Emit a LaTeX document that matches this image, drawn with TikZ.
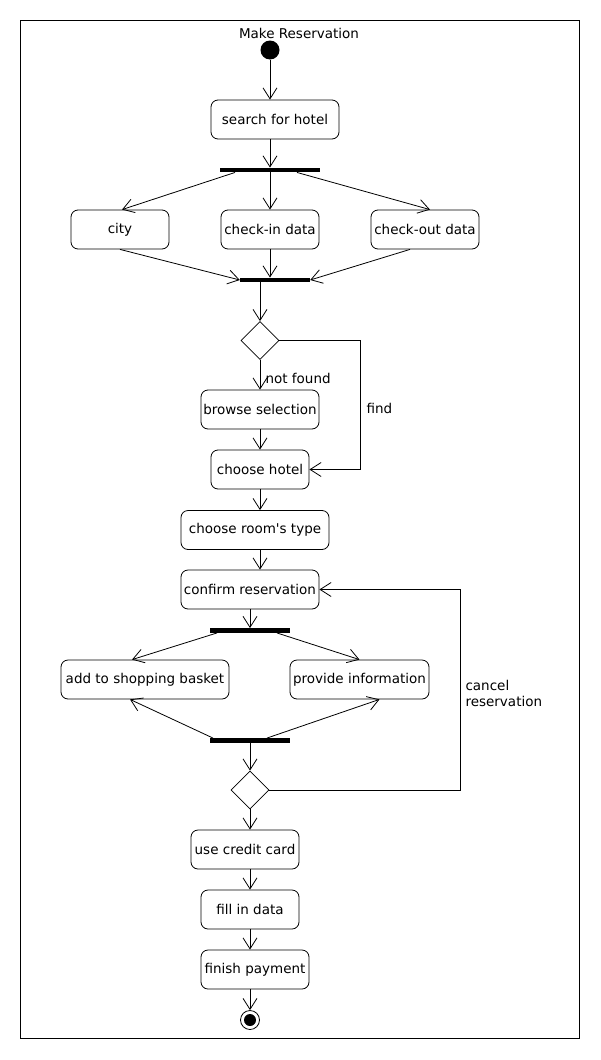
\documentclass[tikz,border=0pt]{standalone}
\usepackage{fontspec}
\setmainfont{DejaVu Sans}
\newfontfamily\nomapfont{DejaVu Sans}
\usetikzlibrary{arrows.meta,calc,shapes.geometric}
\begin{document}
\begin{tikzpicture}[x=1pt,y=-1pt,
  txt/.style={font=\fontsize{13.5}{16}\selectfont},
  act/.style={txt,draw,rounded corners=7pt,line width=0.8pt,minimum height=39pt,inner sep=0pt},
  bar/.style={fill=black,minimum height=4.5pt,inner sep=0pt},
  dec/.style={draw,diamond,line width=0.8pt,minimum width=38pt,minimum height=38pt,inner sep=0pt},
  flow/.style={-{Straight Barb[length=11pt,width=14pt,line width=0.8pt]},line width=0.8pt},
  plain/.style={line width=0.8pt}
]
\path[use as bounding box,fill=white] (0,0) rectangle (600,1060);
\draw[line width=1pt] (20,20) rectangle (579,1038);

\node[txt] (title) at (299,33) {Make Reservation};
\node[circle,fill=black,minimum size=19pt,inner sep=0pt] (start) at (270,50) {};
\node[act,minimum width=128pt] (search) at (275,119.5) {search for hotel};
\node[bar,minimum width=100pt] (fork1) at (270,170) {};
\node[act,minimum width=98pt] (city) at (120,229.5) {city};
\node[act,minimum width=98pt] (checkin) at (270,229.5) {check-in data};
\node[act,minimum width=108pt] (checkout) at (425,229.5) {check-out data};
\node[bar,minimum width=70pt] (join1) at (275,280) {};
\node[dec] (dec1) at (260,340.5) {};
\node[act,minimum width=118pt] (browse) at (260,409.5) {browse selection};
\node[act,minimum width=98pt] (hotel) at (260,469.5) {choose hotel};
\node[act,minimum width=148pt] (room) at (255,530) {\nomapfont choose room's type};
\node[act,minimum width=138pt] (confirm) at (250,589.5) {confirm reservation};
\node[bar,minimum width=80pt] (fork2) at (250,630.5) {};
\node[act,minimum width=168pt] (basket) at (145,679.5) {add to shopping basket};
\node[act,minimum width=139pt] (provide) at (359.5,679.5) {provide information};
\node[bar,minimum width=80pt] (join2) at (250,740.5) {};
\node[dec] (dec2) at (250,790) {};
\node[act,minimum width=108pt] (credit) at (245,849.5) {use credit card};
\node[act,minimum width=98pt] (fill) at (250,909.5) {fill in data};
\node[act,minimum width=108pt] (finish) at (255,969.5) {finish payment};
\node[circle,draw,line width=0.8pt,minimum size=19pt,inner sep=0pt] (end) at (250,1020) {};
\node[circle,fill=black,minimum size=12pt,inner sep=0pt] (endin) at (end) {};

\coordinate (fr) at (360.5,340.5);
\coordinate (cr) at (460.5,790);

\draw[flow] (start.south) -- (start.south |- search.north);
\draw[flow] (fork1.north |- search.south) -- (fork1.north);
\draw[flow] ([xshift=-35pt]fork1.south) -- ([xshift=2pt]city.north);
\draw[flow] (fork1.south) -- (checkin.north);
\draw[flow] ([xshift=27pt]fork1.south) -- ([xshift=5pt]checkout.north);
\draw[flow] (city.south) -- (join1.west);
\draw[flow] (checkin.south) -- (checkin.south |- join1.north);
\draw[flow] ([xshift=-15pt]checkout.south) -- (join1.east);
\draw[flow] (join1.south -| dec1.north) -- (dec1.north);
\draw[flow] (dec1.south) -- (browse.north);
\node[txt,anchor=west] (nf) at (262,378) {not found};
\draw[plain] (dec1.east) -- (fr);
\draw[flow] (fr) |- (hotel.east);
\node[txt,anchor=west] (find) at (363,408) {find};
\draw[flow] (browse.south) -- (hotel.north);
\draw[flow] (hotel.south) -- (hotel.south |- room.north);
\draw[flow] (room.south -| hotel.south) -- (confirm.north -| hotel.south);
\draw[flow] (confirm.south) -- (fork2.north);
\draw[flow] ([xshift=-33pt]fork2.south) -- ([xshift=-13pt]basket.north);
\draw[flow] ([xshift=27pt]fork2.south) -- (provide.north);
\draw[flow] ([xshift=-37pt]join2.north) -- ([xshift=-15pt]basket.south);
\draw[flow] ([xshift=17pt]join2.north) -- ([xshift=20pt]provide.south);
\draw[flow] (join2.south) -- (dec2.north);
\draw[plain] (dec2.east) -- (cr);
\draw[flow] (cr) |- (confirm.east);
\node[txt,anchor=west,align=left] (cancel) at (462,693) {cancel\\reservation};
\draw[flow] (dec2.south) -- (dec2.south |- credit.north);
\draw[flow] (fill.north |- credit.south) -- (fill.north);
\draw[flow] (fill.south) -- (fill.south |- finish.north);
\draw[flow] (end.north |- finish.south) -- (end.north);
\end{tikzpicture}
\end{document}
